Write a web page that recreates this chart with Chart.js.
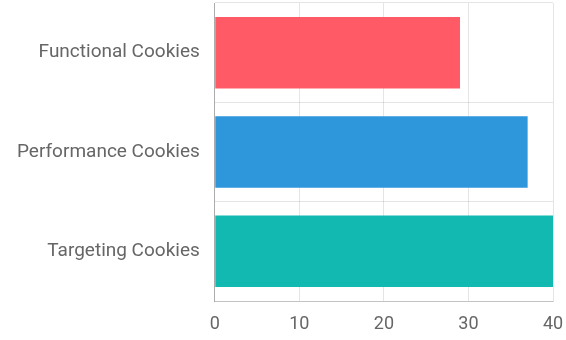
<!DOCTYPE html>
<html>
<head>
<meta charset="utf-8">
<script src="https://cdn.jsdelivr.net/npm/chart.js@4/dist/chart.umd.min.js"></script>
<style>
  html, body { margin: 0; padding: 0; background: #fff; }
  #wrap { width: 566px; height: 340px; }
</style>
</head>
<body>
<div id="wrap"><canvas id="chart"></canvas></div>
<script>
const categories = ['Functional Cookies', 'Performance Cookies', 'Targeting Cookies'];
const counts = [29, 37, 40];
const barColors = ['#ff5a66', '#2e96db', '#12b9b0'];
const xTicks = [0, 10, 20, 30, 40];

const ctx = document.getElementById('chart').getContext('2d');

new Chart(ctx, {
  type: 'bar',
  data: {
    labels: categories,
    datasets: [
      {
        label: 'Cookies',
        data: counts,
        backgroundColor: barColors,
        borderWidth: 0,
      },
    ],
  },
  options: {
    indexAxis: 'y',
    responsive: true,
    maintainAspectRatio: false,
    animation: false,
    layout: {
      padding: { top: 3, right: 13, bottom: -8.6, left: 2 },
    },
    plugins: {
      legend: { display: false },
      tooltip: { enabled: false },
    },
    scales: {
      x: {
        min: xTicks[0],
        max: xTicks[xTicks.length - 1],
        afterBuildTicks: (axis) => {
          axis.ticks = xTicks.map((v) => ({ value: v }));
        },
        // let the layout padding alone decide the side margins
        afterFit: (axis) => {
          axis.paddingLeft = 0;
          axis.paddingRight = 0;
        },
        grid: { color: 'rgba(0,0,0,0.1)', drawTicks: false },
        border: { color: 'rgba(0,0,0,0.15)' },
        ticks: {
          padding: 13,
          color: '#666',
          font: { family: 'Roboto', size: 18 },
        },
      },
      y: {
        afterFit: (axis) => {
          axis.paddingTop = 0;
          axis.paddingBottom = 0;
        },
        grid: { color: 'rgba(0,0,0,0.1)', drawTicks: false },
        border: { color: 'rgba(0,0,0,0.25)' },
        ticks: {
          padding: 15,
          color: '#666',
          font: { family: 'Roboto', size: 19 },
        },
      },
    },
  },
});
</script>
</body>
</html>
